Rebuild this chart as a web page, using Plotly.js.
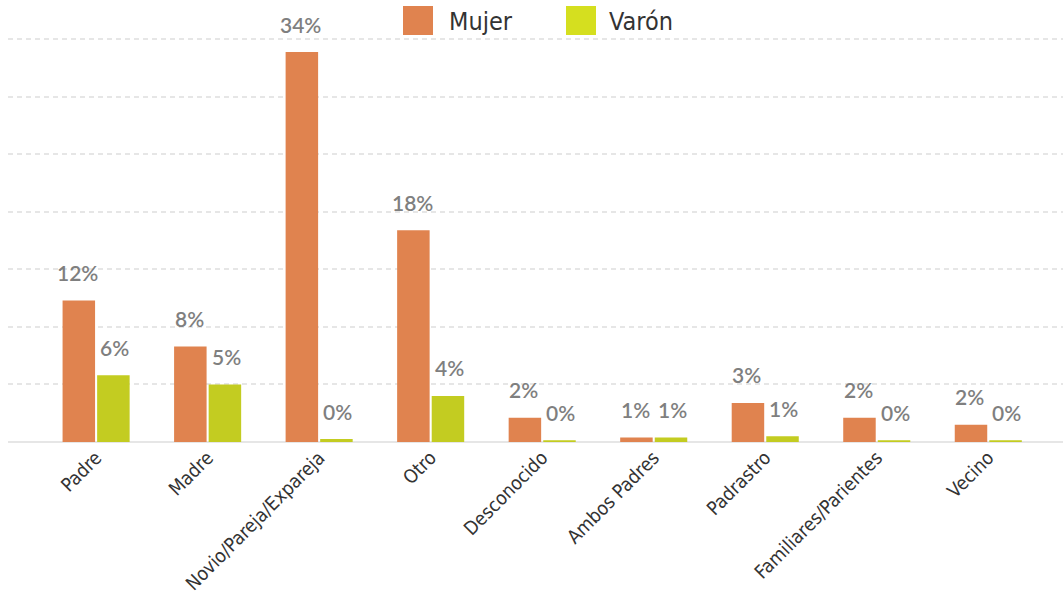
<!DOCTYPE html>
<html>
<head>
<meta charset="utf-8">
<script src="https://cdn.plot.ly/plotly-3.0.1.min.js"></script>
<style>html,body{margin:0;padding:0;background:#fff;}#chart{width:1063px;height:602px;}</style>
</head>
<body>
<div id="chart"></div>
<script>
const categories = ["Padre","Madre","Novio/Pareja/Expareja","Otro","Desconocido","Ambos Padres","Padrastro","Familiares/Parientes","Vecino"];
const mujerValues = [12.3, 8.3, 33.9, 18.4, 2.1, 0.4, 3.4, 2.1, 1.5];
const varonValues = [5.8, 5.0, 0.25, 4.0, 0.15, 0.4, 0.5, 0.15, 0.15];
const mujerLabels = ["12%","8%","34%","18%","2%","1%","3%","2%","2%"];
const varonLabels = ["6%","5%","0%","4%","0%","1%","1%","0%","0%"];
const seriesNames = ["Mujer","Varón"];

const colMujer = "#E0834F";
const colVaron = "#C3CC21";
const colVaronLegend = "#D5DF1F";
const condFont = "'DejaVu Sans Condensed', 'Liberation Sans Narrow', 'Roboto Condensed', Roboto, sans-serif";

const traces = [
  {type:"bar", name:seriesNames[0], x:categories, y:mujerValues, marker:{color:colMujer}, hoverinfo:"x+y"},
  {type:"bar", name:seriesNames[1], x:categories, y:varonValues, marker:{color:colVaron}, hoverinfo:"x+y"}
];

const annotations = [];
const off = 18.5;
const labelFont = {family:"Lato", size:21, color:"#7f7f7f", weight:600};
categories.forEach((c,i)=>{
  annotations.push({x:c, y:mujerValues[i], xref:"x", yref:"y", text:mujerLabels[i], showarrow:false,
    xshift:-off, yshift:28, yanchor:"middle", font:labelFont});
  annotations.push({x:c, y:varonValues[i], xref:"x", yref:"y", text:varonLabels[i], showarrow:false,
    xshift:off, yshift:28, yanchor:"middle", font:labelFont});
});

// custom legend
const L = 8, W = 1055, T = 36, H = 406;
const px = v => (v - L) / W;
const py = v => (T + H - v) / H;
annotations.push({xref:"paper", yref:"paper", x:px(447), y:py(21), xanchor:"left", yanchor:"middle", text:seriesNames[0], showarrow:false,
  font:{family:condFont, size:25, color:"#333333"}});
annotations.push({xref:"paper", yref:"paper", x:px(607), y:py(21), xanchor:"left", yanchor:"middle", text:seriesNames[1], showarrow:false,
  font:{family:condFont, size:25, color:"#333333"}});
const shapes = [
  {type:"rect", xref:"paper", yref:"paper", x0:px(403), x1:px(433), y0:py(35), y1:py(6), fillcolor:colMujer, line:{width:0}},
  {type:"rect", xref:"paper", yref:"paper", x0:px(566), x1:px(596), y0:py(35), y1:py(6), fillcolor:colVaronLegend, line:{width:0}}
];

const layout = {
  width:1063, height:602,
  margin:{l:L, r:0, t:T, b:160},
  paper_bgcolor:"#ffffff", plot_bgcolor:"#ffffff",
  showlegend:false,
  barmode:"group", bargap:0.38, bargroupgap:0.06,
  xaxis:{type:"category", range:[-0.79, 8.67], tickangle:-45, ticks:"", showgrid:false, zeroline:false,
    showline:false, fixedrange:true,
    tickfont:{family:condFont, size:19, color:"#333333"}},
  yaxis:{range:[0, 35.3], dtick:5, tick0:0, showticklabels:false, ticks:"", showgrid:true,
    gridcolor:"#e6e6e6", gridwidth:2, griddash:"5px,4px",
    zeroline:true, zerolinecolor:"#e6e6e6", zerolinewidth:2, showline:false, fixedrange:true},
  annotations:annotations,
  shapes:shapes
};

Plotly.newPlot("chart", traces, layout, {displayModeBar:false, staticPlot:true});
</script>
</body>
</html>
